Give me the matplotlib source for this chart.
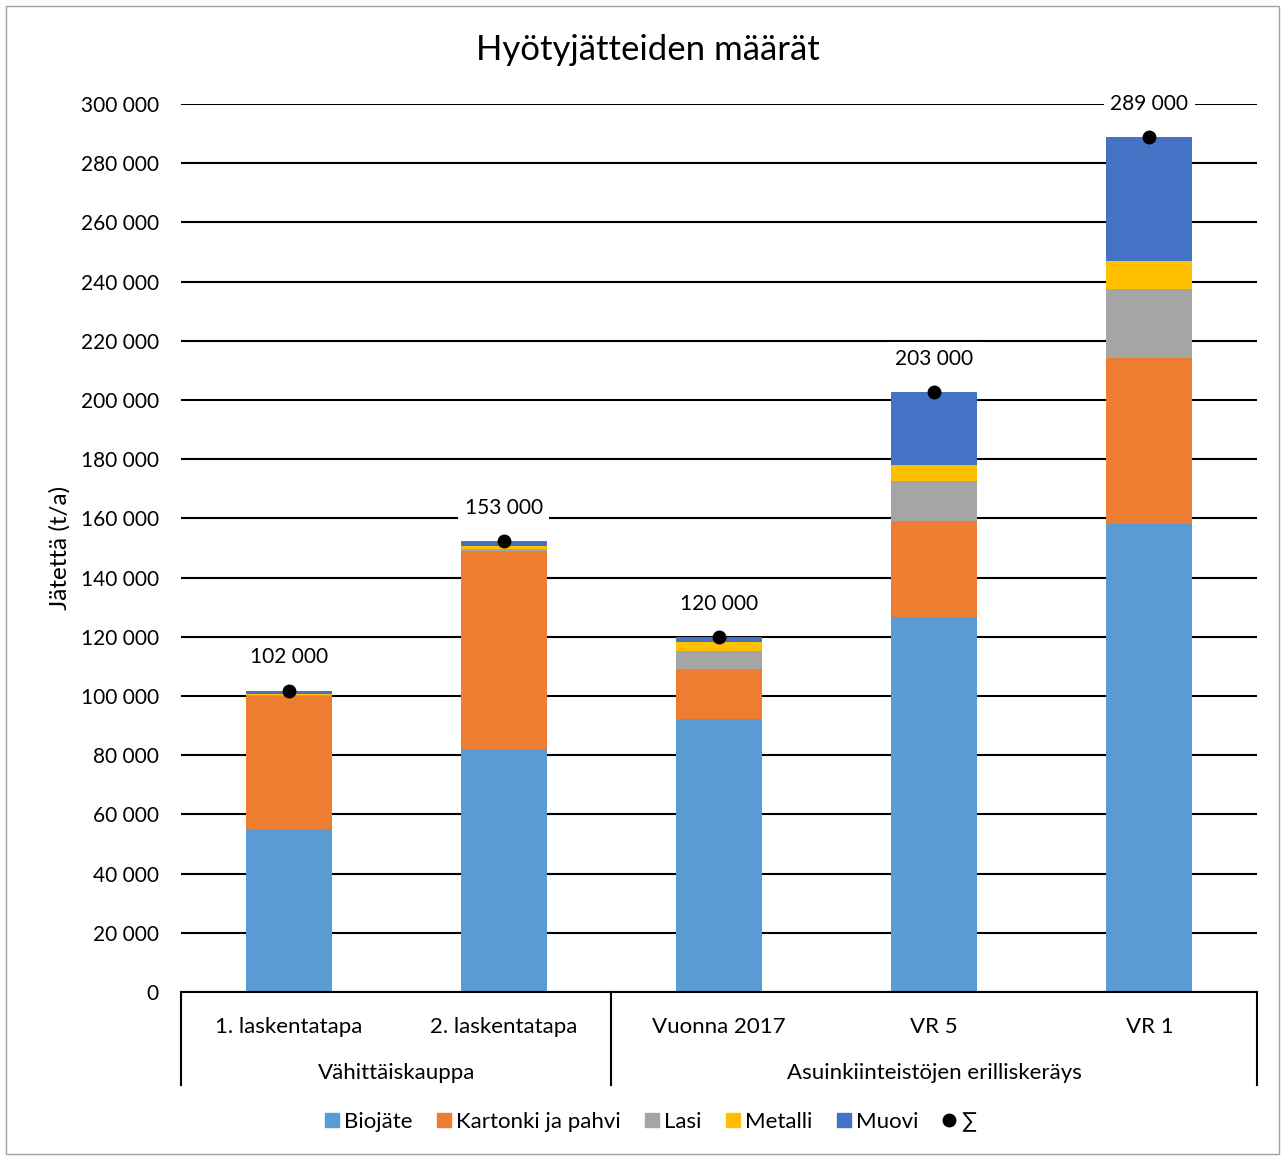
import matplotlib.pyplot as plt
import matplotlib.ticker as mticker
from matplotlib.patches import Rectangle
from matplotlib.lines import Line2D

plt.rcParams['font.family'] = ['Lato', 'DejaVu Sans']

categories = ["1. laskentatapa", "2. laskentatapa", "Vuonna 2017", "VR 5", "VR 1"]
groups = ["Vähittäiskauppa", "Asuinkiinteistöjen erilliskeräys"]
group_spans = [(0, 1), (2, 4)]

biojate = [55000, 82000, 92200, 126700, 158100]
kartonki = [45000, 67000, 16900, 32400, 56100]
lasi = [300, 600, 6100, 13500, 23300]
metalli = [500, 1000, 3000, 5400, 9500]
muovi = [1000, 1800, 1700, 24700, 41900]
total_labels = [102000, 153000, 120000, 203000, 289000]

series = [
    ("Biojäte", biojate, "#5B9BD5"),
    ("Kartonki ja pahvi", kartonki, "#ED7D31"),
    ("Lasi", lasi, "#A5A5A5"),
    ("Metalli", metalli, "#FFC000"),
    ("Muovi", muovi, "#4472C4"),
]

fig = plt.figure(figsize=(12.85, 11.56), dpi=100)
ax = fig.add_axes([181 / 1285, 1 - 992 / 1156, 1076 / 1285, 888 / 1156])

x = list(range(len(categories)))
bottom = [0] * len(categories)
for name, vals, col in series:
    ax.bar(x, vals, 0.4, bottom=bottom, color=col, zorder=2)
    bottom = [b + v for b, v in zip(bottom, vals)]

# summapisteet ja arvot
ax.plot(x, bottom, "o", color="black", markersize=9, zorder=4)
for xi, yi, lab in zip(x, bottom, total_labels):
    txt = f"{lab:,}".replace(",", " ")
    ax.annotate(txt, (xi, yi), xytext=(0, 24), textcoords="offset points",
                ha="center", va="center", fontsize=15, zorder=5,
                bbox=dict(boxstyle="square,pad=0.3", fc="white", ec="none"))

ax.set_ylim(0, 300000)
ax.set_xlim(-0.5, 4.5)
ax.set_yticks(range(0, 300001, 20000))
ax.yaxis.set_major_formatter(mticker.FuncFormatter(lambda v, p: f"{int(v):,}".replace(",", " ")))
ax.yaxis.grid(True, color="black", linewidth=1.5, zorder=0)
ax.set_axisbelow(True)
ax.tick_params(axis="y", length=0, pad=16, labelsize=15)
ax.tick_params(axis="x", length=0, pad=18, labelsize=16)
ax.set_xticks(x)
ax.set_xticklabels(categories)
for s in ["left", "right", "top"]:
    ax.spines[s].set_visible(False)
ax.spines["bottom"].set_linewidth(1.5)
ax.set_ylabel("Jätettä (t/a)", fontsize=17.5, labelpad=7)

# ryhmätasot x-akselin alla
trans = ax.get_xaxis_transform()
for xs in [-0.5, 1.5, 4.5]:
    ax.plot([xs, xs], [0, -0.105], color="black", linewidth=1.5, transform=trans, clip_on=False)
for g, (a, b) in zip(groups, group_spans):
    ax.text((a + b) / 2, -0.091, g, transform=trans, ha="center", va="center", fontsize=16)

fig.text(648 / 1285, 1 - 50 / 1156, "Hyötyjätteiden määrät", ha="center", va="center", fontsize=25)

leg_handles = [Line2D([], [], marker="s", linestyle="none", color=col, markersize=10.5)
               for name, vals, col in series]
leg_handles.append(Line2D([], [], marker="o", linestyle="none", color="black", markersize=9))
leg_labels = [name for name, vals, col in series] + ["∑"]
fig.legend(handles=leg_handles, labels=leg_labels, loc="center",
           bbox_to_anchor=(650 / 1285, 1 - 1122 / 1156), ncol=6, frameon=False,
           fontsize=16, handlelength=0.8, handletextpad=0.15,
           columnspacing=1.0)

fig.patches.append(Rectangle((6 / 1285, 2 / 1156), 1273 / 1285, 1148 / 1156,
                             transform=fig.transFigure, fill=False, ec="#A0A0A0", lw=1))

fig.savefig("out.png", dpi=100)
